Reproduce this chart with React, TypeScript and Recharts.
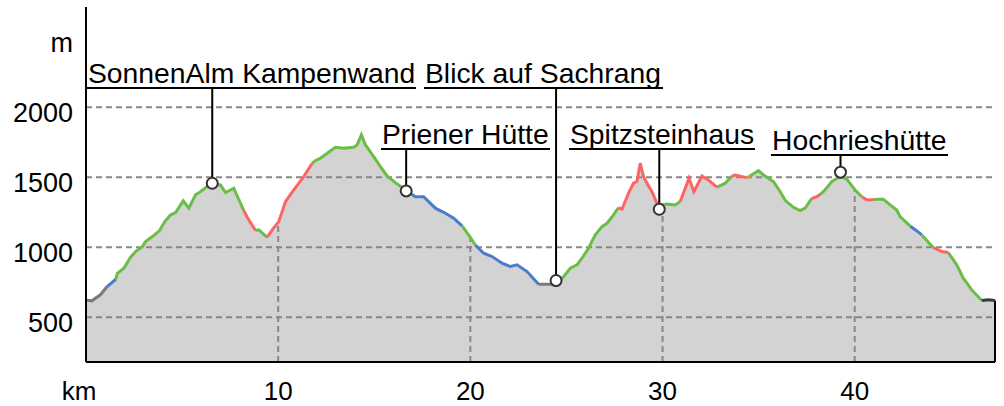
import {
  ComposedChart,
  Area,
  Line,
  XAxis,
  YAxis,
  ReferenceLine,
  ReferenceDot,
} from "recharts";

// distance along the route (km) and elevation (m)
const km = [
  0, 0.3, 0.75, 1.1, 1.55, 1.63, 1.97, 2.32, 2.58, 2.93, 3.1, 3.45, 3.83, 4.1,
  4.4, 4.66, 5.06, 5.35, 5.7, 5.96, 6.3, 6.57, 7.0, 7.26, 7.69, 8.04, 8.2, 8.39,
  8.82, 8.99, 9.43, 9.69, 10.03, 10.38, 10.81, 11.33, 11.77, 11.95, 12.2, 12.55,
  12.98, 13.41, 13.93, 14.11, 14.33, 14.54, 14.97, 15.32, 15.67, 16.1, 16.66,
  17.14, 17.57, 18.18, 18.7, 19.13, 19.57, 19.91, 20.26, 20.69, 21.13, 21.65,
  22.08, 22.43, 22.95, 23.55, 24.16, 24.46, 24.85, 25.2, 25.55, 25.89, 26.15,
  26.5, 26.85, 27.11, 27.45, 27.71, 27.89, 28.23, 28.49, 28.67, 28.84, 29.01,
  29.19, 29.45, 29.71, 29.83, 30.23, 30.66, 30.92, 31.38, 31.63, 32.05, 32.4,
  32.83, 33.26, 33.61, 33.78, 34.1, 34.39, 34.55, 34.99, 35.25, 35.77, 36.12,
  36.38, 36.81, 37.16, 37.42, 37.77, 38.03, 38.2, 38.37, 38.81, 39.24, 39.59,
  40.02, 40.37, 40.6, 40.8, 41.0, 41.15, 41.49, 41.84, 42.19, 42.36, 42.88,
  43.2, 43.49, 44.09, 44.53, 44.87, 45.31, 45.65, 46.09, 46.61, 46.95, 47.3,
];
const elev = [
  622, 617, 660, 719, 771, 814, 850, 929, 969, 1004, 1040, 1076, 1119, 1183,
  1231, 1247, 1331, 1279, 1374, 1397, 1433, 1452, 1445, 1390, 1421, 1314, 1265,
  1214, 1119, 1124, 1071, 1124, 1183, 1326, 1409, 1504, 1600, 1620, 1636, 1671,
  1714, 1707, 1714, 1731, 1802, 1731, 1647, 1576, 1509, 1461, 1405, 1361, 1361,
  1279, 1243, 1207, 1152, 1088, 1016, 957, 933, 886, 862, 874, 826, 736, 736,
  740, 790, 850, 874, 938, 993, 1088, 1147, 1171, 1231, 1283, 1271, 1386, 1457,
  1469, 1600, 1504, 1457, 1397, 1314, 1300, 1309, 1302, 1326, 1493, 1397, 1509,
  1478, 1429, 1457, 1509, 1516, 1505, 1497, 1509, 1547, 1516, 1469, 1398, 1335,
  1285, 1262, 1279, 1350, 1361, 1378, 1397, 1469, 1506, 1486, 1409, 1360, 1340,
  1338, 1340, 1343, 1343, 1302, 1266, 1219, 1152, 1120, 1088, 997, 969, 962,
  874, 779, 695, 619, 624, 619,
];

// slope colouring: each run starts at a km and lasts until the next one
const runStart = [
  0, 1.1, 1.55, 8.2, 8.82, 9.43, 11.77, 16.66, 19.57, 20.26, 23.55, 24.46,
  27.71, 29.83, 30.92, 32.83, 33.61, 34.39, 34.55, 37.77, 38.2, 40.37, 41.0,
  42.88, 43.49, 44.09, 44.87, 46.61,
];
const runKey = [
  "grey", "blue", "green", "red", "green", "red", "green", "blue", "green",
  "blue", "grey", "green", "red", "green", "red", "green", "red", "orange",
  "green", "red", "green", "red", "green", "blue", "green", "red", "green",
  "dark",
];

const poiNames = [
  "SonnenAlm Kampenwand",
  "Priener Hütte",
  "Blick auf Sachrang",
  "Spitzsteinhaus",
  "Hochrieshütte",
];
const poiKm = [6.57, 16.66, 24.46, 29.83, 39.26];
const poiElev = [1457, 1402, 762, 1271, 1536];

const yTicks = [500, 1000, 1500, 2000, 2500];
const xTicks = [0, 10, 20, 30, 40];
const xGrid = [10, 20, 30, 40];
const yGrid = [500, 1000, 1500, 2000];

const Y_MIN = 180;
const Y_MAX = 2716;
const X_MAX = 47.3;

const FONT = '"Liberation Sans", Arial, sans-serif';

const colors: Record<string, string> = {
  grey: "#7a7a7a",
  blue: "#4b7ccc",
  green: "#6abe45",
  red: "#ff6464",
  orange: "#e8962e",
  dark: "#3c3c3c",
};

// label placement in pixels: underline level and span
const poiLayout = [
  { y: 88, x1: 87, x2: 416 },
  { y: 149, x1: 381, x2: 550 },
  { y: 88, x1: 424, x2: 663 },
  { y: 149, x1: 569, x2: 755 },
  { y: 155, x1: 771, x2: 948 },
];

function colorAt(k: number) {
  let c = runKey[0];
  runStart.forEach((s, i) => {
    if (k >= s) c = runKey[i];
  });
  return c;
}

const rows = km.map((k, i) => {
  const row: Record<string, number> = { km: k, elev: elev[i] };
  row[colorAt(k)] = elev[i];
  if (i > 0) row[colorAt(km[i - 1])] = elev[i];
  return row;
});

function elevAt(k: number) {
  for (let i = 1; i < km.length; i++) {
    if (km[i] >= k) {
      const t = (k - km[i - 1]) / (km[i] - km[i - 1]);
      return elev[i - 1] + t * (elev[i] - elev[i - 1]);
    }
  }
  return elev[elev.length - 1];
}

const YTick = ({ x, y, payload }: any) => (
  <text x={x} y={y + 14.5} textAnchor="end" fontSize={27} fontFamily={FONT} fill="#000">
    {payload.value === 2500 ? "m" : payload.value}
  </text>
);

const XTick = ({ x, y, payload }: any) => (
  <text
    x={payload.value === 0 ? x - 7 : x}
    y={y + 38}
    textAnchor="middle"
    fontSize={26}
    fontFamily={FONT}
    fill="#000"
  >
    {payload.value === 0 ? "km" : payload.value}
  </text>
);

function poiShape(i: number) {
  return (p: any) => {
    const lay = poiLayout[i];
    const r = 5.5;
    return (
      <g>
        <line x1={p.cx} y1={lay.y} x2={p.cx} y2={p.cy - r} stroke="#000" strokeWidth={2} />
        <line x1={lay.x1} y1={lay.y} x2={lay.x2} y2={lay.y} stroke="#000" strokeWidth={2} />
        <text x={lay.x1 + 1} y={lay.y - 5} fontSize={28.3} fontFamily={FONT} fill="#000">
          {poiNames[i]}
        </text>
        <circle cx={p.cx} cy={p.cy} r={r} fill="#fff" stroke="#333" strokeWidth={2} />
      </g>
    );
  };
}

export default function App() {
  const lastKm = km[km.length - 1];
  const lastElev = elev[elev.length - 1];
  return (
    <div style={{ position: "absolute", left: 0, top: 0, width: 1004, height: 406 }}>
      <ComposedChart
        width={1004}
        height={406}
        data={rows}
        margin={{ top: 7, right: 9, bottom: 0, left: 0 }}
        style={{ fontFamily: FONT }}
      >
        <XAxis
          dataKey="km"
          type="number"
          domain={[0, X_MAX]}
          ticks={xTicks}
          tick={<XTick />}
          tickLine={false}
          tickSize={0}
          tickMargin={0}
          height={44}
          axisLine={{ stroke: "#000", strokeWidth: 2 }}
        />
        <YAxis
          type="number"
          domain={[Y_MIN, Y_MAX]}
          ticks={yTicks}
          tick={<YTick />}
          tickLine={false}
          tickSize={0}
          tickMargin={13}
          width={86}
          axisLine={{ stroke: "#000", strokeWidth: 2 }}
        />
        <Area
          dataKey="elev"
          type="linear"
          fill="#d3d3d3"
          fillOpacity={1}
          stroke="none"
          isAnimationActive={false}
        />
        {xGrid.map((v) => (
          <ReferenceLine
            key={"vx" + v}
            segment={[
              { x: v, y: Y_MIN },
              { x: v, y: elevAt(v) },
            ]}
            stroke="#888"
            strokeWidth={2}
            strokeDasharray="6 4"
          />
        ))}
        {yGrid.map((v) => (
          <ReferenceLine key={"hy" + v} y={v} stroke="#888" strokeWidth={2} strokeDasharray="6 4" />
        ))}
        <ReferenceLine
          segment={[
            { x: lastKm, y: Y_MIN },
            { x: lastKm, y: lastElev },
          ]}
          stroke="#000"
          strokeWidth={2}
        />
        {Object.keys(colors).map((k) => (
          <Line
            key={k}
            dataKey={k}
            type="linear"
            stroke={colors[k]}
            strokeWidth={3}
            dot={false}
            activeDot={false}
            connectNulls={false}
            isAnimationActive={false}
          />
        ))}
        {poiNames.map((n, i) => (
          <ReferenceDot key={n} x={poiKm[i]} y={poiElev[i]} r={6} shape={poiShape(i)} />
        ))}
      </ComposedChart>
    </div>
  );
}
